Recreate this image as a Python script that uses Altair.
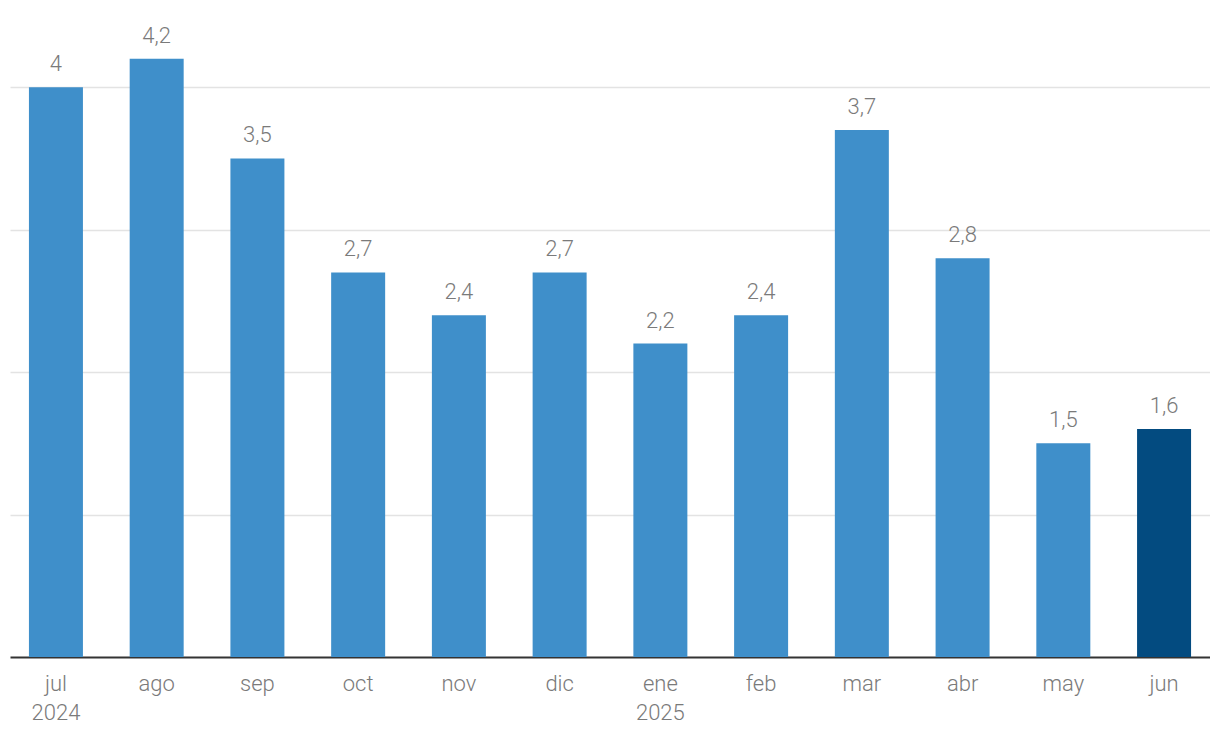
import altair as alt
import pandas as pd

months = ["jul", "ago", "sep", "oct", "nov", "dic", "ene", "feb", "mar", "abr", "may", "jun"]
values = [4.0, 4.2, 3.5, 2.7, 2.4, 2.7, 2.2, 2.4, 3.7, 2.8, 1.5, 1.6]
highlight = [False] * 11 + [True]

df = pd.DataFrame({"mes": months, "valor": values, "destacado": highlight})

FONT = "Roboto"
GREY = "#7a7a7a"

x = alt.X(
    "mes:N",
    sort=months,
    scale=alt.Scale(paddingInner=0.464, paddingOuter=0.188),
    axis=alt.Axis(
        title=None,
        labelAngle=0,
        ticks=False,
        domain=True,
        domainColor="#333333",
        domainWidth=2,
        labelFont=FONT,
        labelFontSize=22,
        labelFontWeight=300,
        labelColor=GREY,
        labelPadding=16,
        labelLineHeight=29,
        labelExpr="datum.label == 'jul' ? ['jul', '2024'] : datum.label == 'ene' ? ['ene', '2025'] : datum.label",
    ),
)
y = alt.Y(
    "valor:Q",
    scale=alt.Scale(domain=[0, 4.5], nice=False),
    axis=alt.Axis(
        title=None,
        labels=False,
        ticks=False,
        domain=False,
        values=[1, 2, 3, 4],
        grid=True,
        gridColor="#e3e3e3",
        gridWidth=1.5,
    ),
)

bars = alt.Chart(df).mark_bar().encode(
    x=x,
    y=y,
    color=alt.Color(
        "destacado:N",
        scale=alt.Scale(domain=[False, True], range=["#3f8fca", "#034b80"]),
        legend=None,
    ),
)

labels = alt.Chart(df).transform_calculate(
    etiqueta="replace(format(datum.valor, '.1~f'), '.', ',')"
).mark_text(
    font=FONT, fontSize=22, fontWeight=300, color=GREY, baseline="alphabetic", dy=-16
).encode(x=alt.X("mes:N", sort=months), y="valor:Q", text="etiqueta:N")

chart = (
    alt.layer(bars, labels)
    .properties(width=1200, height=641, padding={"left": 2, "top": 8, "right": 0, "bottom": 0})
    .configure_view(stroke=None)
)

chart.save("out.html", embed_options={"renderer": "svg", "actions": False})
